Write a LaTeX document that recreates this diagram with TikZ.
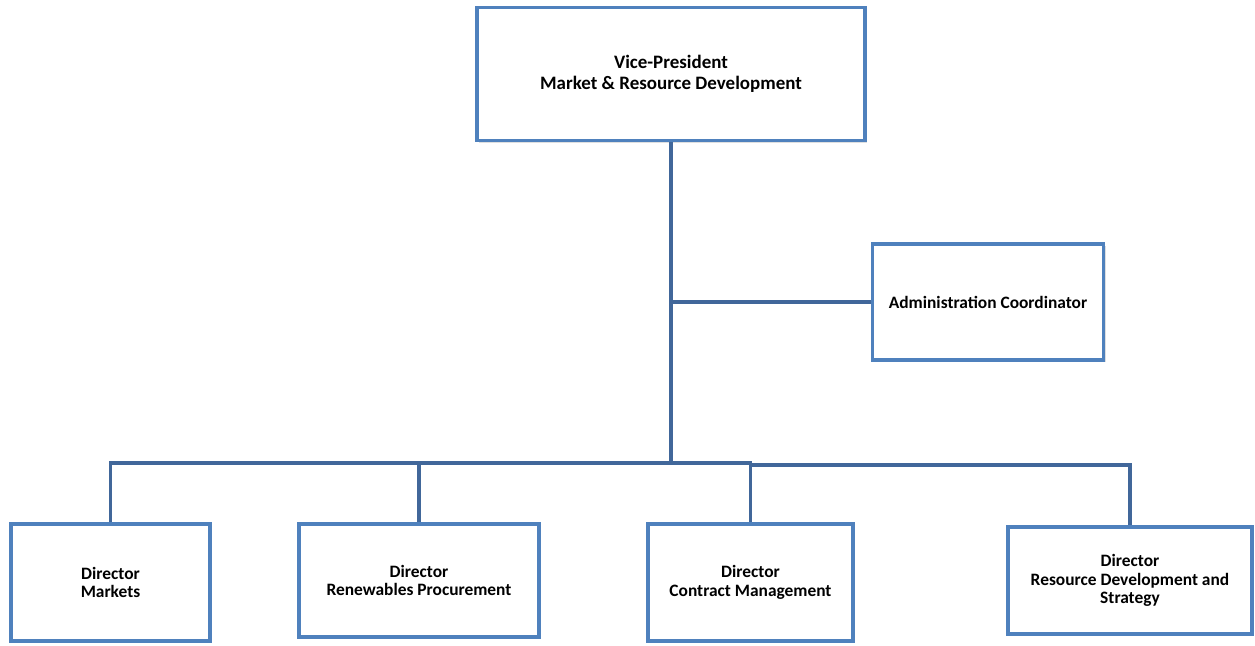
\documentclass[tikz,border=0pt]{standalone}
\usepackage{fontspec}
\setmainfont{Carlito}
\usetikzlibrary{shadows}
\definecolor{boxblue}{HTML}{4F81BD}
\definecolor{linkblue}{HTML}{41679A}
\tikzset{
  post/.style={draw=boxblue,line width=1.8pt,fill=white,align=center,
    font=\fontsize{9.9}{10.6}\selectfont\bfseries,inner sep=0pt,
    drop shadow={opacity=0.25,shadow xshift=1.2pt,shadow yshift=-1.2pt}},
  head/.style={post,font=\fontsize{10.8}{12}\selectfont\bfseries},
  link/.style={draw=linkblue,line width=2.1pt}
}
\begin{document}
\begin{tikzpicture}[x=0.02cm,y=-0.02cm]
\useasboundingbox (0,0) rectangle (1255,646);
% top of the chart
\node[head,minimum width=7.76cm,minimum height=2.66cm] (vp) at (671,74) {Vice-President\\Market \& Resource Development};
\node[post,minimum width=4.62cm,minimum height=2.32cm] (adm) at (988,302) {Administration Coordinator};
% directors, left to right
\node[post,minimum width=3.98cm,minimum height=2.34cm] (mkt) at (110.5,582.5) {Director\\Markets};
\node[post,minimum width=4.8cm,minimum height=2.26cm] (ren) at (419,580.5) {Director\\Renewables Procurement};
\node[post,minimum width=4.1cm,minimum height=2.34cm] (con) at (750.5,582.5) {Director\\Contract Management};
\node[post,minimum width=4.88cm,minimum height=2.14cm] (res) at (1130,580.5) {Director\\Resource Development and\\Strategy};
% bus points
\coordinate (bus) at (671,463);
\coordinate (bus2) at (750,465);
\draw[link] (vp.south) -- (bus);
\draw[link] (vp.south |- adm.west) -- (adm.west);
\draw[link] (mkt.north) |- (bus) -- (bus -| con.north) -- (con.north);
\draw[link] (ren.north) -- (ren.north |- bus);
\draw[link] (bus2) -| (res.north);
\end{tikzpicture}
\end{document}
